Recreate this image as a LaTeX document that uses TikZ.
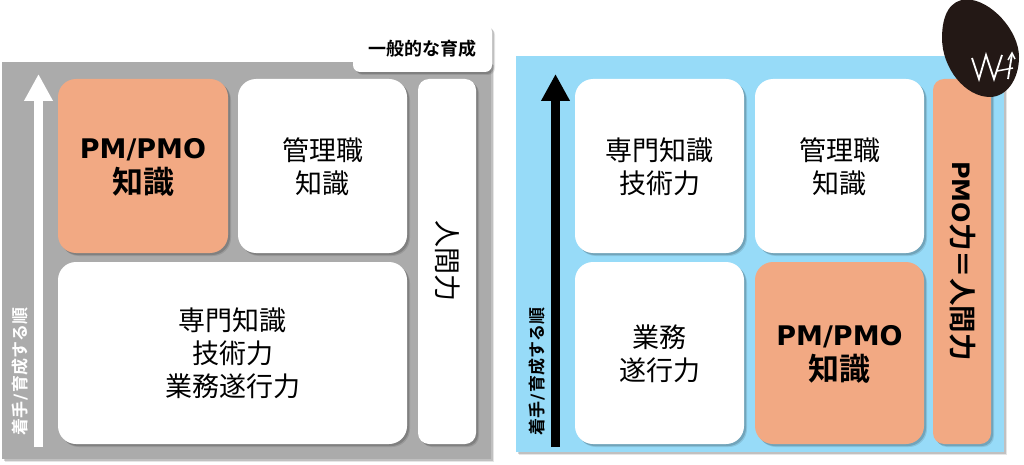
\documentclass[tikz,border=0pt]{standalone}
\usepackage{fontspec}
\usetikzlibrary{arrows.meta,shadows}
\newfontfamily\jp{Noto Sans CJK JP}
\newfontfamily\jpb{Noto Sans CJK JP Bold}
\newfontfamily\latb{DejaVu Sans Bold}
\definecolor{panelgray}{RGB}{171,171,171}
\definecolor{panelblue}{RGB}{151,219,248}
\definecolor{cardorange}{RGB}{242,169,131}
\definecolor{eggblack}{RGB}{35,24,21}
\tikzset{
  softshadow/.style={
    general shadow={fill=black,fill opacity=.10,shadow xshift=3pt,shadow yshift=-3pt},
    general shadow={fill=black,fill opacity=.16,shadow xshift=2pt,shadow yshift=-2pt}},
  panel/.style={inner sep=0pt,softshadow},
  card/.style={inner sep=0pt,rounded corners=18pt,fill=white,align=center,softshadow,
    font=\jp\fontsize{27}{33}\selectfont},
  strongcard/.style={card,fill=cardorange,font=\jpb\fontsize{31}{35}\selectfont},
  slim/.style={rounded corners=11pt},
  growth/.style={line width=9pt,-{Triangle[width=27pt,length=27pt]}},
  sidelabel/.style={inner sep=0pt,rotate=90,font=\jpb\fontsize{17}{18}\selectfont},
}
\newcommand{\pmo}[1]{{\latb\fontsize{#1}{#1}\selectfont\rule{0pt}{22pt}PM/PMO}}
\newcommand{\dn}{\rule{0pt}{24.5pt}}
\newcommand{\sep}{\hspace{1.5pt}{\latb\fontsize{17}{18}\selectfont/}\hspace{1.5pt}}
\begin{document}
\begin{tikzpicture}[x=1pt,y=-1pt]
\useasboundingbox (0,0) rectangle (1024,465);
% left panel
\node[panel,fill=panelgray,minimum width=489pt,minimum height=397pt] (lpanel) at (246.5,260.5) {};
\node[card,fill=white,rounded corners=7pt,minimum width=139pt,minimum height=47pt,font=\jpb\fontsize{18}{20}\selectfont] (ltag) at (422.5,48.5) {一般的な育成};
\coordinate (la0) at (38.5,447);
\coordinate (la1) at (38.5,74);
\draw[growth,white] (la0) -- (la1);
\node[sidelabel,text=white] (llab) at (20,371.5) {着手\sep 育成する順};
\node[strongcard,minimum width=170pt,minimum height=174pt] (lpm) at (143,166) {\pmo{27}\\知識};
\node[card,minimum width=169pt,minimum height=174pt] (lmg) at (322.5,166) {\dn 管理職\\知識};
\node[card,minimum width=349pt,minimum height=182pt] (lsp) at (232.5,353) {専門知識\\技術力\\業務遂行力};
\node[card,slim,minimum width=58pt,minimum height=365pt] (lhu) at (447,261.5) {};
\node[inner sep=0pt,rotate=-90,font=\jp\fontsize{27}{27}\selectfont] (lhut) at (448,261) {人間力};
% right panel
\node[panel,fill=panelblue,minimum width=487.5pt,minimum height=396pt] (rpanel) at (759.75,254) {};
\coordinate (ra0) at (555.5,447);
\coordinate (ra1) at (555.5,74);
\draw[growth,black] (ra0) -- (ra1);
\node[sidelabel,text=black] (rlab) at (537.5,371.5) {着手\sep 育成する順};
\node[card,minimum width=169pt,minimum height=174pt] (rsp) at (659.5,166) {\dn 専門知識\\技術力};
\node[card,minimum width=169pt,minimum height=174pt] (rmg) at (839.5,166) {\dn 管理職\\知識};
\node[card,minimum width=169pt,minimum height=182pt] (rgy) at (659.5,353) {\dn 業務\\遂行力};
\node[strongcard,minimum width=169pt,minimum height=182pt] (rpm) at (839.5,353) {\pmo{27}\\知識};
\node[card,slim,fill=cardorange,minimum width=58pt,minimum height=365pt] (rhu) at (962,261.5) {};
\node[inner sep=0pt,rotate=-90,font=\jpb\fontsize{27.5}{27.5}\selectfont] (rhut) at (963,261) {{\latb\fontsize{24}{27}\selectfont PMO}力＝人間力};
% egg logo
\fill[eggblack] (967,-0.5) .. controls (990,-0.5) and (1019,30) .. (1019,57)
  .. controls (1019,80) and (1006,97) .. (990,97)
  .. controls (965,97) and (942,68) .. (942,38)
  .. controls (942,15) and (950,-0.5) .. (967,-0.5) -- cycle;
\draw[white,line width=1.8pt,line join=miter] (972,58) -- (979,79) -- (986,55) -- (994,79) -- (1002,55);
\draw[white,line width=1.8pt] (1012,54) -- (1008,79);
\draw[white,line width=1.5pt] (997,71) -- (1013,68);
\draw[white,line width=1.5pt] (1008,60) -- (1012,53) -- (1015,59);
\end{tikzpicture}
\end{document}
